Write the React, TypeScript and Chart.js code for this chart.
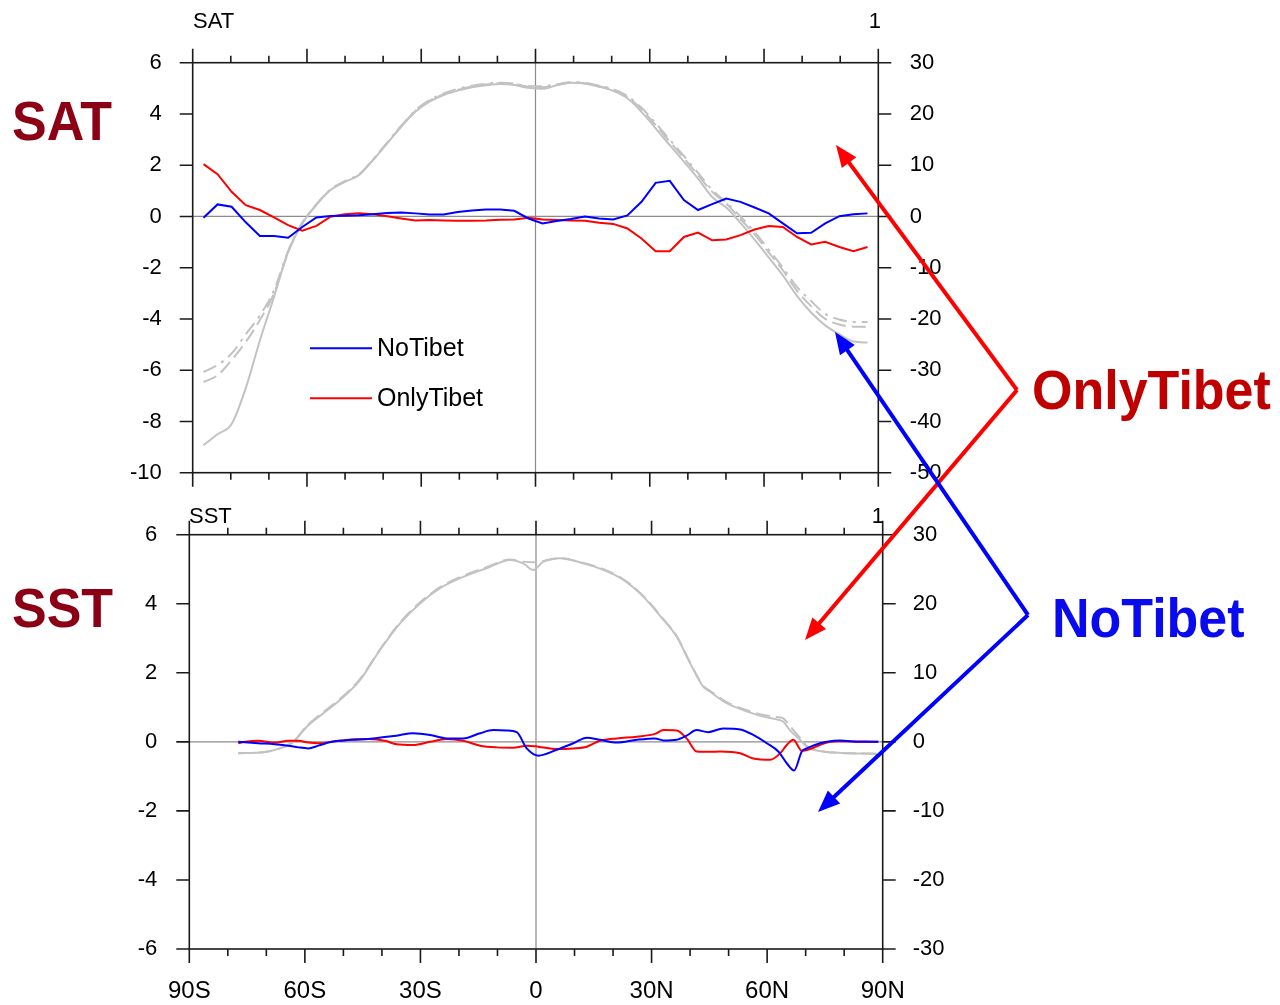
import React, { useEffect, useRef } from 'react';
import { Chart, registerables } from 'chart.js';
Chart.register(...registerables);

// ---------- data ----------
const satLat = [-87.16, -83.48, -79.78, -76.07, -72.36, -68.65, -64.94, -61.23, -57.52, -53.81, -50.09, -46.38, -42.67, -38.96, -35.25, -31.54, -27.83, -24.12, -20.41, -16.7, -12.99, -9.28, -5.57, -1.86, 1.86, 5.57, 9.28, 12.99, 16.7, 20.41, 24.12, 27.83, 31.54, 35.25, 38.96, 42.67, 46.38, 50.09, 53.81, 57.52, 61.23, 64.94, 68.65, 72.36, 76.07, 79.78, 83.48, 87.16];
const satNoTibet = [-0.05, 0.47, 0.38, -0.23, -0.76, -0.76, -0.83, -0.41, -0.04, 0.02, 0.03, 0.05, 0.09, 0.13, 0.15, 0.12, 0.08, 0.08, 0.17, 0.23, 0.27, 0.27, 0.22, -0.08,
  -0.27, -0.18, -0.1, 0.0, -0.08, -0.12, 0.04, 0.57, 1.31, 1.39, 0.64, 0.25, 0.48, 0.7, 0.57, 0.35, 0.12, -0.27, -0.66, -0.64, -0.27, 0.01, 0.09, 0.12];
const satOnlyTibet = [2.04, 1.65, 0.96, 0.44, 0.25, -0.04, -0.34, -0.56, -0.37, -0.01, 0.09, 0.12, 0.09, 0.01, -0.08, -0.16, -0.14, -0.16, -0.17, -0.17, -0.16, -0.13, -0.12, -0.05,
  -0.12, -0.14, -0.16, -0.17, -0.25, -0.29, -0.47, -0.86, -1.36, -1.36, -0.8, -0.63, -0.93, -0.9, -0.73, -0.51, -0.37, -0.41, -0.8, -1.09, -0.99, -1.19, -1.36, -1.19];
const satClimCtrl = [-44.65, -42.5, -40.5, -33.5, -24.2, -15.7, -6.9, -1.4, 2.25, 5.15, 6.75, 8.05, 11.0, 14.25, 17.5, 20.45, 22.4, 23.7, 24.55, 25.2, 25.6, 25.85, 25.65, 25.1,
  24.9, 25.6, 26.1, 25.95, 25.3, 24.5, 23.05, 20.4, 17.2, 13.9, 10.7, 7.4, 3.8, 1.75, -1.25, -4.5, -8.0, -11.5, -15.5, -18.75, -21.25, -23.0, -24.4, -24.6];
const satClimNoTibet = [-30.35, -29.0, -26.75, -23.0, -19.3, -14.4, -6.7, -1.2, 2.4, 5.3, 6.9, 8.2, 11.1, 14.4, 17.7, 20.7, 22.7, 24.0, 24.9, 25.5, 25.9, 26.1, 25.9, 25.4,
  25.4, 25.8, 26.2, 26.05, 25.5, 24.8, 23.5, 21.2, 18.2, 15.0, 11.8, 8.5, 5.2, 2.75, 0.0, -3.0, -6.5, -10.0, -13.75, -16.5, -19.0, -20.1, -20.6, -20.6];
const satClimOnlyTibet = [-32.3, -31.0, -28.0, -24.5, -20.2, -15.0, -7.0, -1.3, 2.3, 5.2, 6.8, 8.1, 11.05, 14.3, 17.6, 20.6, 22.55, 23.85, 24.7, 25.35, 25.75, 26.0, 25.8, 25.3,
  25.2, 25.7, 26.15, 25.95, 25.4, 24.65, 23.3, 20.9, 17.8, 14.6, 11.4, 8.1, 4.8, 2.5, -0.5, -3.5, -7.0, -10.5, -14.5, -17.5, -20.0, -21.1, -21.5, -21.55];

const sstNoTibetLat = [-77.3, -72.1, -67.8, -64.3, -61.7, -59.1, -56.5, -53.0, -47.8, -43.5, -39.2, -36.2, -31.9, -27.5, -23.2, -18.9, -14.5, -11.1, -7.6, -5.0, -2.4, 0.6, 5.4, 9.7, 13.2, 16.6, 21.0, 26.2, 30.9, 33.1, 36.5, 39.1, 41.7, 44.7, 48.6, 53.0, 56.4, 59.9, 62.9, 65.1, 67.0, 69.0, 70.3, 72.4, 75.5, 78.9, 84.1, 88.9];
const sstNoTibet = [0.0, -0.04, -0.07, -0.11, -0.16, -0.19, -0.11, 0.0, 0.06, 0.08, 0.14, 0.18, 0.25, 0.2, 0.1, 0.1, 0.25, 0.34, 0.33, 0.28, -0.19, -0.4, -0.23, -0.04, 0.12, 0.06, -0.02, 0.06, 0.1, 0.04, 0.06, 0.18, 0.34, 0.28, 0.39, 0.36, 0.2, -0.04, -0.28, -0.62, -0.83, -0.28, -0.19, -0.09, 0.0, 0.04, 0.0, 0.0];
const sstOnlyTibetLat = [-77.3, -75.5, -72.1, -67.8, -64.3, -61.7, -59.1, -56.5, -53.0, -47.8, -43.5, -39.2, -36.2, -31.9, -27.5, -23.2, -18.9, -14.5, -10.2, -5.9, -2.4, 0.6, 5.4, 9.7, 13.2, 16.6, 21.0, 26.2, 30.9, 33.1, 36.5, 39.1, 41.7, 45.2, 47.8, 53.0, 56.4, 60.8, 63.4, 65.1, 66.8, 69.0, 71.1, 73.7, 76.3, 78.9, 88.8];
const sstOnlyTibet = [-0.04, 0.0, 0.03, -0.02, 0.03, 0.03, -0.02, -0.04, 0.0, 0.07, 0.08, 0.03, -0.07, -0.09, 0.0, 0.08, 0.03, -0.11, -0.16, -0.17, -0.11, -0.14, -0.21, -0.19, -0.14, 0.03, 0.1, 0.15, 0.23, 0.34, 0.33, 0.1, -0.28, -0.29, -0.28, -0.33, -0.48, -0.52, -0.33, -0.09, 0.06, -0.26, -0.21, -0.09, 0.0, 0.02, 0.0];
const sstClimLat = [-77.3, -70.8, -66.5, -63.0, -59.5, -55.2, -50.9, -45.7, -40.5, -35.3, -30.1, -24.9, -18.9, -12.8, -6.7, -3.3, -0.7, 1.9, 6.2, 12.3, 17.5, 22.7, 27.9, 33.1, 36.5, 40.0, 43.4, 45.2, 49.5, 53.8, 59.0, 62.5, 64.2, 65.9, 68.5, 70.3, 72.9, 77.2, 88.5];
const sstClimCtrl = [-1.65, -1.5, -0.95, 0, 2.2, 4.15, 6.05, 8.95, 13.3, 17.15, 20.05, 22.25, 23.9, 25.15, 26.35, 25.85, 24.9, 26.1, 26.6, 25.85, 24.9, 23.45, 21.0, 17.65, 15.25, 11.4, 8.0, 7.25, 5.6, 4.6, 3.65, 3.25, 2.9, 1.7, 0.3, -0.7, -1.25, -1.55, -1.75];
const sstClimExp = [-1.65, -1.5, -0.95, 0.05, 2.3, 4.3, 6.2, 9.1, 13.4, 17.3, 20.2, 22.4, 24.05, 25.3, 26.4, 26.1, 26.0, 26.2, 26.6, 25.9, 25.0, 23.55, 21.1, 17.75, 15.35, 11.5, 8.1, 7.4, 5.75, 4.75, 3.9, 3.6, 3.4, 2.3, 0.6, -0.6, -1.2, -1.55, -1.7];

const latTickValues = [-90, -60, -30, 0, 30, 60, 90];
const latTickLabels = ['90S', '60S', '30S', '0', '30N', '60N', '90N'];
const latMinorTicks = [-90, -80, -70, -60, -50, -40, -30, -20, -10, 0, 10, 20, 30, 40, 50, 60, 70, 80, 90];
const satLeftTicks = [-10, -8, -6, -4, -2, 0, 2, 4, 6];
const satRightTicks = [-50, -40, -30, -20, -10, 0, 10, 20, 30];
const sstLeftTicks = [-6, -4, -2, 0, 2, 4, 6];
const sstRightTicks = [-30, -20, -10, 0, 10, 20, 30];
const seriesNames = ['NoTibet', 'OnlyTibet'];

// ---------- style ----------
const FONT = 'Liberation Sans, Arial, Helvetica, sans-serif';
const BLUE = '#0000ff';
const RED = '#ff0000';
const GRAY = '#c2c2c2';

const pts = (xs: number[], ys: number[]) => xs.map((x, i) => ({ x, y: ys[i] }));

function decorPlugin(withLegend: boolean) {
  return {
    id: 'decor',
    beforeDatasetsDraw(chart: any) {
      const { ctx, chartArea: a, scales } = chart;
      const y0 = scales.y.getPixelForValue(0);
      const x0 = scales.x.getPixelForValue(0);
      ctx.save();
      ctx.strokeStyle = '#8c8c8c';
      ctx.lineWidth = 1.2;
      ctx.beginPath();
      ctx.moveTo(a.left, y0); ctx.lineTo(a.right, y0);
      ctx.moveTo(x0, a.top); ctx.lineTo(x0, a.bottom);
      ctx.stroke();
      ctx.restore();
    },
    afterDatasetsDraw(chart: any) {
      const { ctx, chartArea: a, scales } = chart;
      ctx.save();
      ctx.strokeStyle = '#1a1a1a';
      ctx.lineWidth = 1.6;
      ctx.strokeRect(a.left, a.top, a.right - a.left, a.bottom - a.top);
      ctx.beginPath();
      latMinorTicks.forEach((v) => {
        const px = scales.x.getPixelForValue(v);
        const len = v % 30 === 0 ? 14 : 7;
        ctx.moveTo(px, a.top); ctx.lineTo(px, a.top - len);
        ctx.moveTo(px, a.bottom); ctx.lineTo(px, a.bottom + len);
      });
      scales.y.ticks.forEach((t: any) => {
        const py = scales.y.getPixelForValue(t.value);
        ctx.moveTo(a.left, py); ctx.lineTo(a.left - 13, py);
      });
      scales.y2.ticks.forEach((t: any) => {
        const py = scales.y2.getPixelForValue(t.value);
        ctx.moveTo(a.right, py); ctx.lineTo(a.right + 13, py);
      });
      ctx.stroke();
      if (withLegend) {
        const cols = [BLUE, RED];
        const ys = [348.3, 398.3];
        ctx.lineWidth = 2;
        ctx.font = `25px ${FONT}`;
        ctx.fillStyle = '#000';
        ctx.textBaseline = 'middle';
        seriesNames.forEach((n, i) => {
          ctx.strokeStyle = cols[i];
          ctx.beginPath();
          ctx.moveTo(310, ys[i]); ctx.lineTo(372, ys[i]);
          ctx.stroke();
          ctx.fillText(n, 377, ys[i] + 1);
        });
      }
      ctx.restore();
    },
  };
}

function yScale(pos: string, min: number, max: number, ticks: number[], pad: number, width: number) {
  return {
    type: 'linear',
    position: pos,
    min, max,
    afterBuildTicks: (s: any) => { s.ticks = ticks.map((v) => ({ value: v })); },
    afterFit: (s: any) => { s.width = width; s.paddingTop = 0; s.paddingBottom = 0; },
    ticks: { padding: pad, color: '#000', font: { family: FONT, size: 22 }, callback: (v: any) => String(v), autoSkip: false },
    grid: { display: false, drawTicks: false },
    border: { display: false },
  };
}

function lineDs(label: string, data: any[], color: string, axis: string, dash: number[] = [], smooth = false) {
  return {
    label, data, yAxisID: axis,
    borderColor: color, backgroundColor: color,
    borderWidth: 2, borderDash: dash,
    pointRadius: 0, tension: 0,
    cubicInterpolationMode: smooth ? 'monotone' : 'default',
    fill: false,
  };
}

export default function App() {
  const topRef = useRef<HTMLCanvasElement>(null);
  const botRef = useRef<HTMLCanvasElement>(null);

  useEffect(() => {
    const top = new Chart(topRef.current as HTMLCanvasElement, {
      type: 'line',
      data: {
        datasets: [
          lineDs('NoTibet', pts(satLat, satNoTibet), BLUE, 'y'),
          lineDs('OnlyTibet', pts(satLat, satOnlyTibet), RED, 'y'),
          lineDs('Clim ctrl', pts(satLat, satClimCtrl), GRAY, 'y2', [], true),
          lineDs('Clim NoTibet', pts(satLat, satClimNoTibet), GRAY, 'y2', [14, 6, 3, 6], true),
          lineDs('Clim OnlyTibet', pts(satLat, satClimOnlyTibet), GRAY, 'y2', [14, 6], true),
        ] as any,
      },
      options: {
        animation: false,
        responsive: false,
        devicePixelRatio: 1,
        layout: { padding: { top: 62.7, bottom: 27.3, left: 0, right: 0 } },
        plugins: { legend: { display: false }, tooltip: { enabled: false }, title: { display: false } },
        scales: {
          x: { type: 'linear', min: -90, max: 90, display: false },
          y: yScale('left', -10, 6, satLeftTicks, 31, 192.7),
          y2: yScale('right', -50, 30, satRightTicks, 31.5, 401.7),
        } as any,
      },
      plugins: [decorPlugin(true)],
    });

    const bot = new Chart(botRef.current as HTMLCanvasElement, {
      type: 'line',
      data: {
        datasets: [
          lineDs('NoTibet', pts(sstNoTibetLat, sstNoTibet), BLUE, 'y', [], true),
          lineDs('OnlyTibet', pts(sstOnlyTibetLat, sstOnlyTibet), RED, 'y', [], true),
          lineDs('Clim ctrl', pts(sstClimLat, sstClimCtrl), GRAY, 'y2', [], true),
          lineDs('Clim exp', pts(sstClimLat, sstClimExp), GRAY, 'y2', [14, 6], true),
        ] as any,
      },
      options: {
        animation: false,
        responsive: false,
        devicePixelRatio: 1,
        layout: { padding: { top: 34.7, bottom: 0, left: 0, right: 0 } },
        plugins: { legend: { display: false }, tooltip: { enabled: false }, title: { display: false } },
        scales: {
          x: {
            type: 'linear', min: -90, max: 90, position: 'bottom',
            afterBuildTicks: (s: any) => { s.ticks = latTickValues.map((v) => ({ value: v })); },
            afterFit: (s: any) => { s.height = 56; s.paddingLeft = 0; s.paddingRight = 0; },
            ticks: {
              padding: 28, color: '#000', font: { family: FONT, size: 24 }, maxRotation: 0, autoSkip: false,
              callback: (v: any) => latTickLabels[latTickValues.indexOf(Number(v))] ?? '',
            },
            grid: { display: false, drawTicks: false },
            border: { display: false },
          },
          y: yScale('left', -6, 6, sstLeftTicks, 32, 189.3),
          y2: yScale('right', -30, 30, sstRightTicks, 30, 397.3),
        } as any,
      },
      plugins: [decorPlugin(false)],
    });

    return () => { top.destroy(); bot.destroy(); };
  }, []);

  const arrow = (x1: number, y1: number, x2: number, y2: number, color: string, key: string) => {
    const dx = x2 - x1, dy = y2 - y1;
    const len = Math.hypot(dx, dy);
    const ux = dx / len, uy = dy / len;
    const hl = 22, hw = 9;
    const bx = x2 - ux * hl, by = y2 - uy * hl;
    const nx = -uy, ny = ux;
    const poly = `${x2},${y2} ${bx + nx * hw},${by + ny * hw} ${bx - nx * hw},${by - ny * hw}`;
    return (
      <g key={key}>
        <line x1={x1} y1={y1} x2={bx + ux * 2} y2={by + uy * 2} stroke={color} strokeWidth={4} />
        <polygon points={poly} fill={color} />
      </g>
    );
  };

  const big = { fontFamily: FONT, fontWeight: 700, fontSize: 52 } as any;
  const small = { fontFamily: FONT, fontSize: 22 } as any;

  return (
    <div style={{ position: 'absolute', left: 0, top: 0, width: 1280, height: 1005, background: '#fff', overflow: 'hidden' }}>
      <canvas ref={topRef} width={1280} height={500} style={{ position: 'absolute', left: 0, top: 0, width: 1280, height: 500 }} />
      <canvas ref={botRef} width={1280} height={505} style={{ position: 'absolute', left: 0, top: 500, width: 1280, height: 505 }} />
      <svg width={1280} height={1005} style={{ position: 'absolute', left: 0, top: 0, pointerEvents: 'none' }}>
        <text x={193} y={28} style={small} fill="#000">SAT</text>
        <text x={881} y={28} style={small} fill="#000" textAnchor="end">1</text>
        <text x={189} y={523} style={small} fill="#000">SST</text>
        <text x={884} y={523} style={small} fill="#000" textAnchor="end">1</text>
        <text transform="translate(12,140) scale(1,1.07)" style={big} fill="#8c0015">SAT</text>
        <text transform="translate(12,627) scale(1,1.07)" style={big} fill="#8c0015">SST</text>
        <text transform="translate(1032,409) scale(1,1.06)" style={big} fill="#c00000">OnlyTibet</text>
        <text transform="translate(1052,637) scale(1,1.06)" style={big} fill="#0a0aee">NoTibet</text>
        {arrow(1017, 390, 836, 145, RED, 'r1')}
        {arrow(1017, 390, 805, 640, RED, 'r2')}
        {arrow(1028, 615, 835, 332, BLUE, 'b1')}
        {arrow(1028, 615, 818, 812, BLUE, 'b2')}
      </svg>
    </div>
  );
}
